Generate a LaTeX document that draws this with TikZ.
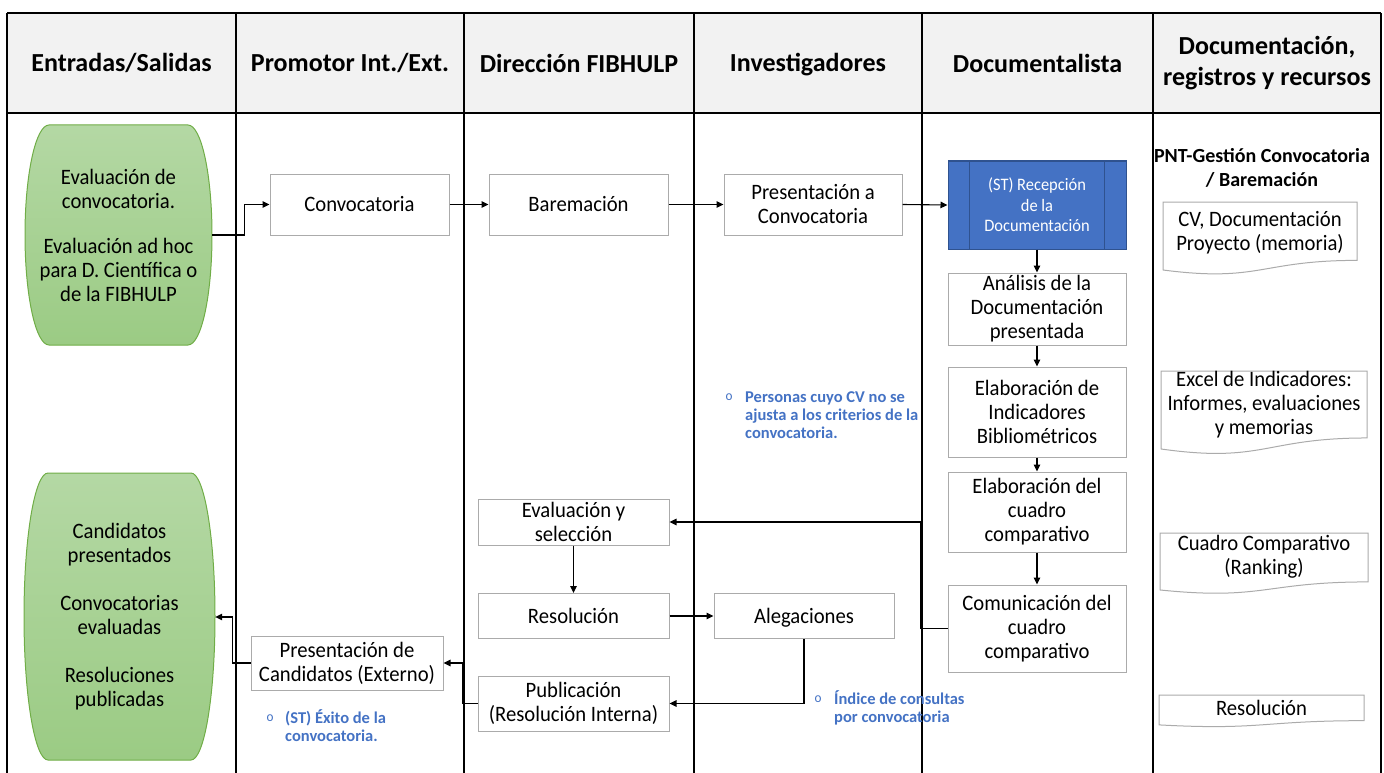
\documentclass[tikz,border=0pt]{standalone}
\usepackage{fontspec}
\setmainfont{Carlito}[FakeStretch=0.94]
\newfontfamily\widefont{Carlito}
\usetikzlibrary{arrows.meta}

\definecolor{headgray}{HTML}{F2F2F2}
\definecolor{boxgray}{HTML}{ABABAB}
\definecolor{docgray}{HTML}{ABABAB}
\definecolor{stblue}{HTML}{4472C4}
\definecolor{stedge}{HTML}{2F528F}
\definecolor{noteblue}{HTML}{4472C4}
\definecolor{greentop}{HTML}{B4D8A4}
\definecolor{greenbot}{HTML}{9BCB84}
\definecolor{greenedge}{HTML}{70AD47}

\newcommand{\txtbody}{\fontsize{22}{24}\selectfont}
\newcommand{\txthead}{\widefont\fontsize{26}{31}\selectfont\bfseries}
\newcommand{\txtpnt}{\widefont\fontsize{20}{24}\selectfont\bfseries}
\newcommand{\txtst}{\fontsize{17.5}{20.5}\selectfont}
\newcommand{\txtnote}{\widefont\fontsize{16.5}{18}\selectfont\bfseries}
\newcommand{\txtbullet}{\fontsize{14}{16}\selectfont}

% document symbol: left, right, top, full height
\newcommand{\docoutline}[4]{%
  \path[docline] (#1,#3) -- (#2,#3) -- (#2,{#3+0.802*#4})
    .. controls ({(#1+#2)/2},{#3+0.802*#4}) and ({(#1+#2)/2},{#3+1.107*#4})
    .. (#1,{#3+0.934*#4}) -- cycle;}

% input/output symbol with curved sides: left, top, right, bottom, side radius
\newcommand{\barrel}[5]{%
  \path[iofill] ({#1+#5},#2) -- ({#3-#5},#2)
    arc[start angle=90,end angle=-90,x radius=#5pt,y radius={(#4-#2)/2*1pt}]
    -- ({#1+#5},#4)
    arc[start angle=270,end angle=90,x radius=#5pt,y radius={(#4-#2)/2*1pt}]
    -- cycle;}

\tikzset{
  lane/.style={draw=black, line width=1.1pt},
  head/.style={font=\txthead, align=center, inner sep=0pt},
  proc/.style={draw=boxgray, line width=1pt, fill=white, align=center,
    inner sep=0pt, font=\txtbody},
  subproc/.style={draw=stedge, line width=1pt, fill=stblue, text=white,
    align=center, inner sep=0pt, font=\txtst},
  io/.style={align=center, inner sep=0pt, font=\txtbody},
  iofill/.style={draw=greenedge, line width=1pt, top color=greentop,
    bottom color=greenbot},
  docline/.style={draw=docgray, line width=1pt, fill=white},
  doctext/.style={align=center, inner sep=0pt, font=\txtbody},
  pnt/.style={font=\txtpnt, align=center, inner sep=0pt},
  note/.style={text=noteblue, font=\txtnote, align=left, inner sep=0pt,
    anchor=west},
  bullet/.style={text=noteblue, font=\txtbullet, inner sep=0pt},
  flow/.style={-{Triangle[length=7pt,width=6.5pt]}, line width=1.1pt},
}

\begin{document}
\begin{tikzpicture}[x=1pt,y=-1pt]
\useasboundingbox (0,0) rectangle (1384,773);

% header band and swim lanes
\fill[headgray] (7,13) rectangle (1381,113);
\foreach \x in {7,236,464,694,922,1153,1381}
  \draw[lane] (\x,13) -- (\x,773);
\draw[lane] (7,13) -- (1381,13);
\draw[lane] (7,113) -- (1381,113);

\node[head] (h1) at (121.5,63) {Entradas/Salidas};
\node[head] (h2) at (350,63) {Promotor Int./Ext.};
\node[head] (h3) at (579,63) {Dirección FIBHULP};
\node[head] (h4) at (808,65) {Investigadores};
\node[head] (h5) at (1037.5,63) {Documentalista};
\node[head] (h6) at (1267,63.5) {Documentación,\\registros y recursos};

% inputs and outputs
\barrel{25}{125}{212}{345}{24}
\node[io, minimum width=187, minimum height=220] (in) at (118.5,235)
  {Evaluación de\\convocatoria.\\[21pt]Evaluación ad hoc\\para D. Científica o\\de la FIBHULP};
\barrel{24}{473}{215}{760}{24}
\node[io, minimum width=191, minimum height=287] (out) at (119.5,617)
  {Candidatos\\presentados\\[24pt]Convocatorias\\evaluadas\\[24pt]Resoluciones\\publicadas};

% process steps
\node[proc, minimum width=179, minimum height=61] (conv) at (359.5,204.5) {Convocatoria};
\node[proc, minimum width=179, minimum height=61] (bar) at (578.5,204.5) {Baremación};
\node[proc, minimum width=178, minimum height=61] (presc) at (813,204.5) {Presentación a\\Convocatoria};
\node[subproc, minimum width=178, minimum height=88] (recep) at (1037,205)
  {(ST) Recepción\\de la\\Documentación};
\draw[stedge, line width=1pt] ([xshift=22pt]recep.north west) -- ([xshift=22pt]recep.south west);
\draw[stedge, line width=1pt] ([xshift=-22pt]recep.north east) -- ([xshift=-22pt]recep.south east);
\node[proc, minimum width=178, minimum height=72] (anal) at (1037,309)
  {Análisis de la\\Documentación\\presentada};
\node[proc, minimum width=178, minimum height=90] (elab1) at (1037,412)
  {Elaboración de\\Indicadores\\Bibliométricos};
\node[proc, minimum width=178, minimum height=80] (elab2) at (1037,512)
  {Elaboración del\\cuadro\\comparativo};
\node[proc, minimum width=178, minimum height=87] (comu) at (1037,628.5)
  {Comunicación del\\cuadro\\comparativo};
\node[proc, minimum width=191, minimum height=46] (evsel) at (573.5,522)
  {Evaluación y\\selección};
\node[proc, minimum width=191, minimum height=45] (resol) at (573.5,616) {Resolución};
\node[proc, minimum width=180, minimum height=45, text depth=0pt] (alega) at (804,616) {Alegaciones};
\node[proc, minimum width=191, minimum height=55] (publ) at (573.5,703.5)
  {Publicación\\(Resolución Interna)};
\node[proc, minimum width=192, minimum height=54] (presca) at (347,663)
  {Presentación de\\Candidatos (Externo)};

% documentation, records and resources
\node[pnt] (pnt) at (1262,168) {PNT-Gestión Convocatoria\\/ Baremación};
\docoutline{1163}{1357}{202}{72.8}
\node[doctext] (d1) at (1260,232.5) {CV, Documentación\\Proyecto (memoria)};
\docoutline{1161}{1367}{371}{83.5}
\node[doctext] (d2) at (1264,405) {Excel de Indicadores:\\Informes, evaluaciones\\y memorias};
\docoutline{1160}{1368}{533}{61}
\node[doctext] (d3) at (1264,557) {Cuadro Comparativo\\(Ranking)};
\docoutline{1159}{1364}{695}{32}
\node[doctext] (d4) at (1261.5,708) {Resolución};

% indicator notes
\node[bullet] (b1) at (729,397) {o};
\node[note] (n1) at (745,415) {Personas cuyo CV no se\\ajusta a los criterios de la\\convocatoria.};
\node[bullet] (b2) at (270,718) {o};
\node[note] (n2) at (285,726) {(ST) Éxito de la\\convocatoria.};
\node[bullet] (b3) at (818,699) {o};
\node[note] (n3) at (834,708) {Índice de consultas\\por convocatoria};

% flow
\draw[flow] (in.east) -- ++(32,0) |- (conv.west);
\draw[flow] (conv.east) -- (bar.west);
\draw[flow] (bar.east) -- (presc.west);
\draw[flow] (presc.east) -- (recep.west);
\draw[flow] (recep.south) -- (anal.north);
\draw[flow] (anal.south) -- (elab1.north);
\draw[flow] (elab1.south) -- (elab2.north);
\draw[flow] (elab2.south) -- (comu.north);
\draw[flow] (comu.west) -- ++(-27,0) |- (evsel.east);
\draw[flow] (evsel.south) -- (resol.north);
\draw[flow] (resol.east) -- (alega.west);
\draw[flow] (alega.south) |- (publ.east);
\draw[flow] (publ.west) -- ++(-15,0) |- (presca.east);
\draw[flow] (presca.west) -- ++(-18,0) |- (out.east);
\end{tikzpicture}
\end{document}
